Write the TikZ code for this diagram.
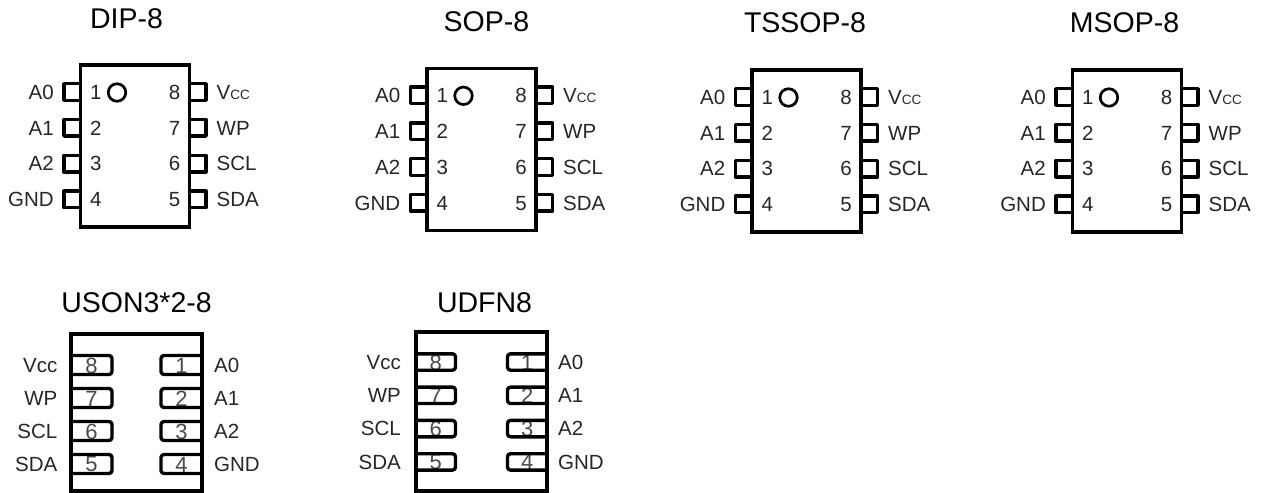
\documentclass[tikz,border=0pt]{standalone}
\usepackage{fontspec}
\setmainfont{Liberation Sans}
\definecolor{labelc}{HTML}{262626}
\definecolor{numc}{HTML}{4A4A4A}
\tikzset{
  pkgbody/.style={draw=black, line width=3.3pt, fill=none, inner sep=0pt, outer sep=0pt},
  pinline/.style={draw=black, line width=3.4pt, line join=round},
  ttlfont/.style={font=\fontsize{28.5}{30}\selectfont, text=black, anchor=base, inner sep=0pt},
  lbl/.style={font=\fontsize{20.5}{22}\selectfont, text=labelc, inner sep=0pt},
  pnum/.style={font=\fontsize{20.5}{22}\selectfont, text=labelc, inner sep=0pt},
  qnum/.style={font=\fontsize{22}{24}\selectfont, text=numc, inner sep=0pt, anchor=center},
  dotmark/.style={draw=black, line width=2.7pt, circle, minimum size=17.5pt, inner sep=0pt},
}
\begin{document}
\begin{tikzpicture}[x=1pt, y=-1pt]
\useasboundingbox (0,0) rectangle (1262,493);
% ---------- top row: DIP / SOP / TSSOP / MSOP ----------
\foreach \nm/\L/\T/\tname/\tx/\ty in {dip/80.5/65/DIP-8/126.5/28,
  sop/427/68.3/SOP-8/486.5/31.7, tssop/752/70/TSSOP-8/805/32,
  msop/1072.5/70/MSOP-8/1124.5/32}{
  \pgfmathsetmacro\R{\L+109}
  \node[ttlfont] (\nm-title) at (\tx,\ty) {\tname};
  \node[pkgbody, anchor=north west, minimum width=109pt, minimum height=162pt] (\nm-body) at (\L,\T) {};
  \foreach \i/\la/\ra [count=\k from 0] in {1/A0/{V{\fontsize{13.5}{13.5}\selectfont CC}}, 2/A1/WP, 3/A2/SCL, 4/GND/SDA}{
    \pgfmathsetmacro\py{\T+27+35.8*\k}
    \pgfmathtruncatemacro\rn{9-\i}
    \draw[pinline] (\L,{\py-8.3}) -- ({\L-16.5},{\py-8.3}) -- ({\L-16.5},{\py+8.3}) -- (\L,{\py+8.3});
    \draw[pinline] (\R,{\py-8.3}) -- ({\R+16.5},{\py-8.3}) -- ({\R+16.5},{\py+8.3}) -- (\R,{\py+8.3});
    \node[lbl, anchor=base east] (\nm-l\i) at ({\L-26.5},{\py+7.3}) {\la};
    \node[pnum, anchor=base west] (\nm-n\i) at ({\L+9.5},{\py+7.3}) {\i};
    \node[pnum, anchor=base east] (\nm-n\rn) at ({\R-9},{\py+7.3}) {\rn};
    \node[lbl, anchor=base west] (\nm-l\rn) at ({\R+27},{\py+7.3}) {\ra};
  }
  \node[dotmark] (\nm-dot) at ({\L+36.5},{\T+27.5}) {};
}
% ---------- bottom row: USON / UDFN ----------
\foreach \nm/\L/\T/\tname/\tx/\pa/\pp/\ph/\pl/\lg/\rg in {uson/71/334/USON3*2-8/136.5/365/33/9.5/41/13.5/12,
  udfn/416/332/UDFN8/484.5/362/33.3/8.2/39.5/15/11}{
  \pgfmathsetmacro\R{\L+131}
  \pgfmathsetmacro\H{491-\T}
  \node[ttlfont] (\nm-title) at (\tx,312) {\tname};
  \node[pkgbody, anchor=north west, minimum width=131pt, minimum height=\H pt] (\nm-body) at (\L,\T) {};
  \foreach \ln/\la/\rn/\ra [count=\k from 0] in {8/{V{}cc}/1/A0, 7/WP/2/A1, 6/SCL/3/A2, 5/SDA/4/GND}{
    \pgfmathsetmacro\py{\pa+\pp*\k}
    \node[qnum] (\nm-n\ln) at ({\L+\pl/2},{\py+0.5}) {\ln};
    \node[qnum] (\nm-n\rn) at ({\R-\pl/2},{\py+0.5}) {\rn};
    \draw[pinline, rounded corners=3pt] (\L,{\py-\ph}) -- ({\L+\pl},{\py-\ph}) -- ({\L+\pl},{\py+\ph}) -- (\L,{\py+\ph});
    \draw[pinline, rounded corners=3pt] (\R,{\py-\ph}) -- ({\R-\pl},{\py-\ph}) -- ({\R-\pl},{\py+\ph}) -- (\R,{\py+\ph});
    \node[lbl, anchor=base east] (\nm-l\ln) at ({\L-\lg},{\py+7.3}) {\la};
    \node[lbl, anchor=base west] (\nm-l\rn) at ({\R+\rg},{\py+7.3}) {\ra};
  }
}
\end{tikzpicture}
\end{document}
